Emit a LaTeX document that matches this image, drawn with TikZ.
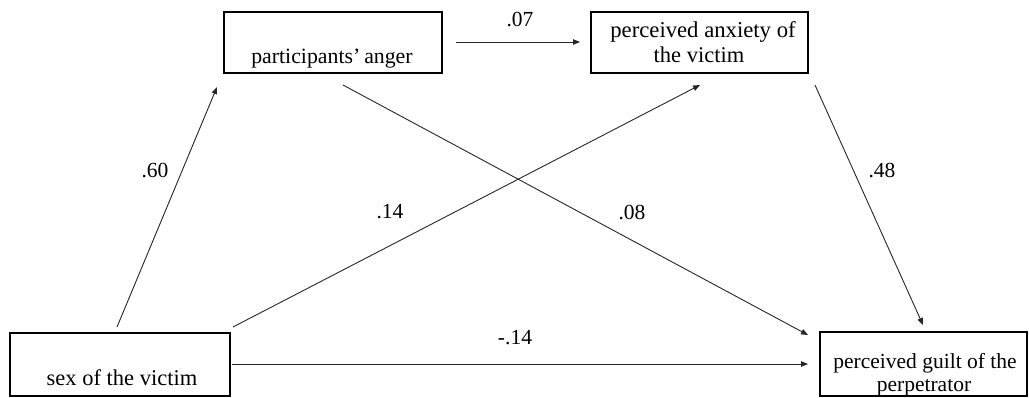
\documentclass[tikz,border=0pt]{standalone}
\usepackage{fontspec}
\setmainfont{Liberation Serif}
\usetikzlibrary{arrows.meta}
\begin{document}
\begin{tikzpicture}[x=1pt,y=-1pt,
  box/.style={draw=black,line width=1.9pt,rectangle,inner sep=0pt},
  txt/.style={font=\fontsize{21.5}{24}\selectfont,anchor=base,inner sep=0pt},
  num/.style={font=\fontsize{21.5}{24}\selectfont,inner sep=0pt},
  arr/.style={line width=0.9pt,draw=black!85,-{Triangle[length=7pt,width=5.5pt]}}]
\useasboundingbox (0,0) rectangle (1029,397);
% boxes
\node[box,minimum width=218pt,minimum height=61pt] (anger) at (333,42.5) {};
\node[box,minimum width=217pt,minimum height=61pt] (anx) at (699.5,42.5) {};
\node[box,minimum width=220pt,minimum height=63pt] (sex) at (120,364.5) {};
\node[box,minimum width=207pt,minimum height=64pt] (guilt) at (923.5,364) {};
% texts
\node[txt,font=\fontsize{21.8}{24}\selectfont] (tanger) at (332,63) {participants’\hspace{-1.5pt} anger};
\node[txt,font=\fontsize{22.7}{24}\selectfont] (tanx1) at (703,37) {perceived anxiety of};
\node[txt,font=\fontsize{22.5}{24}\selectfont] (tanx2) at (699,62) {the victim};
\node[txt,font=\fontsize{22.5}{24}\selectfont] (tsex) at (122,385) {sex of the victim};
\node[txt] (tg1) at (925,368) {perceived guilt of the};
\node[txt] (tg2) at (924,391) {perpetrator};
% arrow end coordinates
\coordinate (a1s) at (456,42);  \coordinate (a1e) at (580,42);
\coordinate (a2s) at (117,327); \coordinate (a2e) at (217,87);
\coordinate (a3s) at (233,327); \coordinate (a3e) at (700,85);
\coordinate (a4s) at (343,85);  \coordinate (a4e) at (808,335);
\coordinate (a5s) at (815,85);  \coordinate (a5e) at (923,325);
\coordinate (a6s) at (232,364); \coordinate (a6e) at (808,364);
% arrows
\draw[arr] (a1s) -- (a1e);
\draw[arr] (a2s) -- (a2e);
\draw[arr] (a3s) -- (a3e);
\draw[arr] (a4s) -- (a4e);
\draw[arr] (a5s) -- (a5e);
\draw[arr] (a6s) -- (a6e);
% labels
\node[num] (l07) at (520,20) {.07};
\node[num] (l60) at (155,170) {.60};
\node[num] (l14) at (390,212) {.14};
\node[num] (l08) at (632,212) {.08};
\node[num] (l48) at (882,170) {.48};
\node[num] (lm14) at (515,338) {-.14};
\end{tikzpicture}
\end{document}
